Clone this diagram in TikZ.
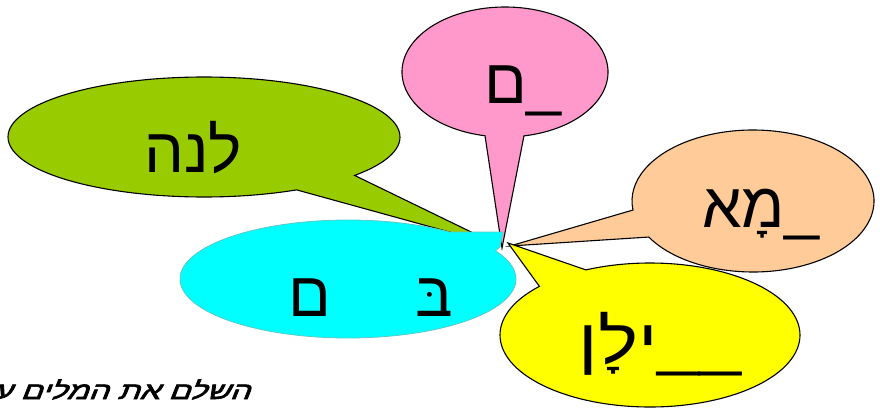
\documentclass[tikz,border=0pt]{standalone}
\usepackage{fontspec}
\newfontfamily\heb[Script=Hebrew]{Liberation Sans}
\newfontfamily\hebhand[Script=Hebrew,FakeSlant=0.3,FakeBold=2.5]{Liberation Sans}
\TeXXeTstate=1
\definecolor{cgreen}{HTML}{99CC00}
\definecolor{cpink}{HTML}{FF99CC}
\definecolor{cpeach}{HTML}{FFCC99}
\definecolor{cyellow}{HTML}{FFFF00}
\definecolor{ccyan}{HTML}{00FFFF}
\definecolor{ccyanline}{HTML}{5CC8C8}
\begin{document}
\begin{tikzpicture}[x=1pt,y=1pt,
  bubble/.style={draw=black,line width=1.1pt,line join=miter},
  bigtext/.style={font=\heb\fontsize{63}{63}\selectfont,inner sep=0pt,anchor=base}]
\useasboundingbox (0,0) rectangle (880,408);

% green callout
\coordinate (gc) at (204,271);
\coordinate (gt) at (500,162);
\path[bubble,fill=cgreen] (gc) ++(-39.8:196 and 60)
  arc[start angle=-39.8,end angle=298.2,x radius=196,y radius=60] -- (gt) -- cycle;

% pink callout
\coordinate (pc) at (505,336);
\coordinate (pt) at (502,160);
\path[bubble,fill=cpink] (pc) ++(-79.4:103 and 65)
  arc[start angle=-79.4,end angle=258.8,x radius=103,y radius=65] -- (pt) -- cycle;

% cyan callout
\coordinate (cc) at (348,129);
\coordinate (ct1) at (500,161);
\coordinate (ct2) at (503,176);
\path[draw=ccyanline,line width=0.8pt,fill=ccyan] (cc) ++(52.7:168 and 59)
  arc[start angle=52.7,end angle=388.7,x radius=168,y radius=59] -- (ct1) -- (ct2) -- cycle;

% peach callout
\coordinate (oc) at (753,207);
\coordinate (ot) at (510,162);
\path[bubble,fill=cpeach] (oc) ++(210.5:121 and 71)
  arc[start angle=210.5,end angle=547.3,x radius=121,y radius=71] -- (ot) -- cycle;

% yellow callout
\coordinate (yc) at (650,73);
\coordinate (yt) at (508,165);
\path[bubble,fill=cyellow] (yc) ++(137.5:150 and 72)
  arc[start angle=137.5,end angle=475.3,x radius=150,y radius=72] -- (yt) -- cycle;

% texts
\node[bigtext] (tgreen) at (193,236) {\beginR לנה\endR};
\node[bigtext] (tpink) at (523,305) {\beginR \_ם\endR};
\node[bigtext] (tpeach) at (761,181) {\beginR \_מָא\endR};
\node[bigtext,anchor=base east] (tyellow) at (742,45) {\scalebox{1.2}[1]{\beginR \_\_ילָן\endR}};
\node[bigtext] (tcyan) at (371,92) {\beginR בּ\hspace{84pt}ם\endR};

\begin{scope}
\clip (0,0) rectangle (880,408);
\node[font=\hebhand\fontsize{24}{24}\selectfont,inner sep=0pt,anchor=base east] (instr) at (250,9) {\scalebox{1.33}[1]{\beginR השלם את המלים ע\endR}};
\end{scope}
\end{tikzpicture}
\end{document}
